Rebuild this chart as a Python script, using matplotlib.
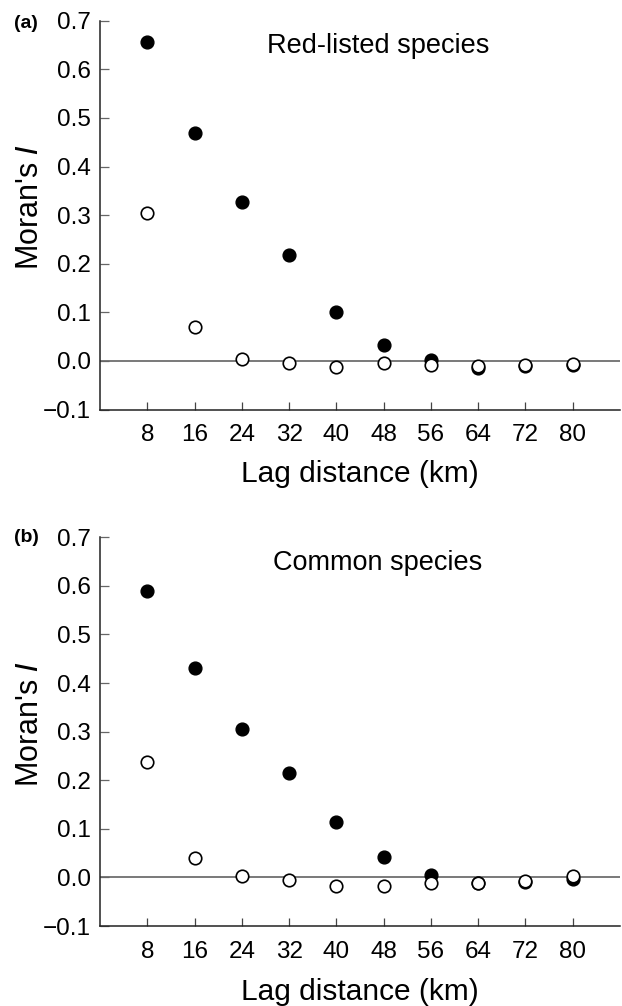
import matplotlib
matplotlib.use("Agg")
import matplotlib.pyplot as plt

plt.rcParams['font.family'] = ['Liberation Sans', 'DejaVu Sans']

# Lag distances (km)
lags = [8, 16, 24, 32, 40, 48, 56, 64, 72, 80]

# (a) Red-listed species
red_filled = [0.656, 0.470, 0.328, 0.219, 0.101, 0.032, 0.001, -0.015, -0.011, -0.009]
red_open = [0.305, 0.070, 0.005, -0.004, -0.012, -0.004, -0.008, -0.011, -0.008, -0.006]

# (b) Common species
com_filled = [0.589, 0.430, 0.305, 0.215, 0.114, 0.042, 0.006, -0.012, -0.010, -0.004]
com_open = [0.237, 0.041, 0.003, -0.006, -0.017, -0.017, -0.012, -0.012, -0.007, 0.002]

yticks = [-0.1, 0.0, 0.1, 0.2, 0.3, 0.4, 0.5, 0.6, 0.7]
ytick_labels = ["\u22120.1", "0.0", "0.1", "0.2", "0.3", "0.4", "0.5", "0.6", "0.7"]

panels = [
    ("(a)", "Red-listed species", red_filled, red_open, 0.994, -0.130),
    ("(b)", "Common species", com_filled, com_open, 1.0, -0.133),
]

fig = plt.figure(figsize=(6.22, 10.06), dpi=100)
boxes = [(0.1608, 0.5929, 0.836, 0.3865), (0.1608, 0.0795, 0.836, 0.3864)]

for (tag, title, filled, opened, tag_y, xlab_y), box in zip(panels, boxes):
    ax = fig.add_axes(box)
    ax.axhline(0, color="#555555", lw=1.1, zorder=1)
    ax.plot(lags, filled, "o", color="black", ms=9.2, zorder=3)
    ax.plot(lags, opened, "o", mfc="white", mec="black", mew=1.2, ms=9.0, zorder=4)

    ax.set_xlim(0, 88)
    ax.set_ylim(-0.1, 0.7)
    ax.set_xticks(lags)
    ax.set_yticks(yticks)
    ax.set_yticklabels(ytick_labels)

    for s in ["top", "right"]:
        ax.spines[s].set_visible(False)
    for s in ["left", "bottom"]:
        ax.spines[s].set_color("#222222")
        ax.spines[s].set_linewidth(1.1)

    ax.tick_params(axis="both", direction="in", width=0.9, labelsize=17.5)
    ax.tick_params(axis="y", pad=6.5, length=6.7, color="#666666")
    ax.tick_params(axis="x", pad=10.5, length=5.5, color="#444444")

    ax.set_xlabel("Lag distance (km)", fontsize=21.5)
    ax.set_ylabel("Moran's $\\it{I}$", fontsize=22)
    ax.xaxis.set_label_coords(0.5, xlab_y)
    ax.yaxis.set_label_coords(-0.105, 0.52)

    ax.text(47, 0.648, title, fontsize=19.5, ha="center", va="center")
    ax.text(-0.165, tag_y, tag, transform=ax.transAxes, fontsize=14,
            fontweight="bold", ha="left", va="center")

fig.savefig("out.png", dpi=100)
